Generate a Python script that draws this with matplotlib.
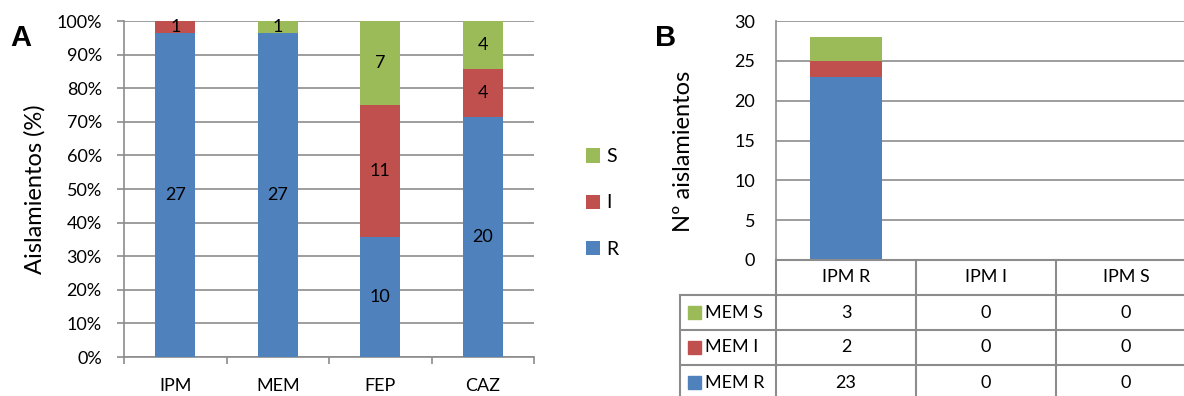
import numpy as np
import matplotlib
matplotlib.use("Agg")
import matplotlib.pyplot as plt
from matplotlib.patches import Rectangle

plt.rcParams['font.family'] = ['Lato', 'DejaVu Sans']

# panel A: number of isolates per category
cats_a = ['IPM', 'MEM', 'FEP', 'CAZ']
r_a = [27, 27, 10, 20]
i_a = [1, 0, 11, 4]
s_a = [0, 1, 7, 4]

# panel B: IPM vs MEM
cats_b = ['IPM R', 'IPM I', 'IPM S']
mem_r = [23, 0, 0]
mem_i = [2, 0, 0]
mem_s = [3, 0, 0]
row_names = ['MEM S', 'MEM I', 'MEM R']

BLUE = '#4F81BD'
RED = '#C0504D'
GREEN = '#9BBB59'
GRAY = '#8C8C8C'
FS = 13

W, H = 1184, 396
fig = plt.figure(figsize=(W / 100, H / 100), dpi=100)


def px_axes(l, t, r, b):
    return fig.add_axes([l / W, (H - b) / H, (r - l) / W, (b - t) / H])


# ---------- panel A ----------
ax = px_axes(124, 21, 534, 357)
x = np.arange(len(cats_a))
tot = np.array(r_a) + np.array(i_a) + np.array(s_a)
pr = np.array(r_a) / tot * 100
pi = np.array(i_a) / tot * 100
ps = np.array(s_a) / tot * 100
bw = 0.39
b1 = ax.bar(x, pr, bw, color=BLUE, label='R', zorder=3)
b2 = ax.bar(x, pi, bw, bottom=pr, color=RED, label='I', zorder=3)
b3 = ax.bar(x, ps, bw, bottom=pr + pi, color=GREEN, label='S', zorder=3)

for cnts, bottoms, hts in [(r_a, np.zeros(4), pr), (i_a, pr, pi), (s_a, pr + pi, ps)]:
    for k in range(4):
        if cnts[k] > 0:
            ax.text(x[k], bottoms[k] + hts[k] / 2, str(cnts[k]), ha='center', va='center',
                    fontsize=FS, zorder=4)

ax.set_xlim(-0.5, 3.5)
ax.set_ylim(0, 100)
ax.set_yticks(np.arange(0, 101, 10))
ax.set_yticklabels([f'{v}%' for v in range(0, 101, 10)], fontsize=FS)
ax.set_xticks(x)
ax.set_xticklabels(cats_a, fontsize=FS)
ax.set_xticks(np.arange(-0.5, 4, 1), minor=True)
ax.tick_params(axis='x', which='major', length=0, pad=15)
ax.tick_params(axis='x', which='minor', length=5, color=GRAY, width=1.2)
ax.tick_params(axis='y', length=5, color=GRAY, width=1.2, pad=11)
ax.grid(axis='y', color=GRAY, lw=1.2, zorder=0)
for s in ['top', 'right']:
    ax.spines[s].set_visible(False)
for s in ['left', 'bottom']:
    ax.spines[s].set_color(GRAY)
    ax.spines[s].set_linewidth(1.2)
ax.set_ylabel('Aislamientos (%)', fontsize=17, labelpad=8)

fig.legend([b3, b2, b1], ['S', 'I', 'R'], loc='center left',
           bbox_to_anchor=(576 / W, (H - 203) / H), frameon=False, fontsize=14,
           handlelength=0.75, handleheight=0.75, handletextpad=0.3,
           labelspacing=1.5, borderpad=0)

fig.text(10 / W, (H - 38) / H, 'A', fontsize=21, fontweight='bold',
         family='Liberation Sans', va='center', ha='left')

# ---------- panel B ----------
bx = px_axes(776, 21, 1196, 260)
xb = np.arange(len(cats_b)) + 0.5
bbw = 0.52
bx.bar(xb, mem_r, bbw, color=BLUE, zorder=3)
bx.bar(xb, mem_i, bbw, bottom=mem_r, color=RED, zorder=3)
bx.bar(xb, mem_s, bbw, bottom=np.array(mem_r) + np.array(mem_i), color=GREEN, zorder=3)
bx.set_xlim(0, 3)
bx.set_ylim(0, 30)
bx.set_yticks(np.arange(0, 31, 5))
bx.set_yticklabels([str(v) for v in range(0, 31, 5)], fontsize=FS)
bx.set_xticks([])
bx.tick_params(axis='y', length=0, pad=15)
bx.grid(axis='y', color=GRAY, lw=1.2, zorder=0)
for s in ['top', 'right', 'bottom']:
    bx.spines[s].set_visible(False)
bx.spines['left'].set_color(GRAY)
bx.spines['left'].set_linewidth(1.2)
bx.set_ylabel('Nº aislamientos', fontsize=17)
bx.yaxis.set_label_coords(-0.196, 0.455)

fig.text(655 / W, (H - 38) / H, 'B', fontsize=21, fontweight='bold',
         family='Liberation Sans', va='center', ha='left')

# data table under panel B
tx = px_axes(680, 260, 1196, 400)
xl = -(776 - 680) / 140
tx.set_xlim(xl, 3)
tx.set_ylim(4, 0)
tx.axis('off')
lk = dict(color=GRAY, lw=1.5, clip_on=False)
tx.plot([0, 3], [0, 0], **lk)
for yy in [1, 2, 3]:
    tx.plot([xl, 3], [yy, yy], **lk)
tx.plot([xl, xl], [1, 4], **lk)
for xx in [0, 1, 2]:
    tx.plot([xx, xx], [0, 4], **lk)

for j, c in enumerate(cats_b):
    tx.text(j + 0.5, 0.5, c, ha='center', va='center', fontsize=FS)

row_vals = [mem_s, mem_i, mem_r]
row_cols = [GREEN, RED, BLUE]
for r, (name, vals, col) in enumerate(zip(row_names, row_vals, row_cols)):
    yc = r + 1.5
    tx.add_patch(Rectangle((xl + 8 / 140, yc - 0.19), 13 / 140, 0.38, color=col))
    tx.text(xl + 25 / 140, yc, name, ha='left', va='center', fontsize=FS)
    for j, v in enumerate(vals):
        tx.text(j + 0.5, yc, str(v), ha='center', va='center', fontsize=FS)

fig.savefig('out.png', dpi=100)
